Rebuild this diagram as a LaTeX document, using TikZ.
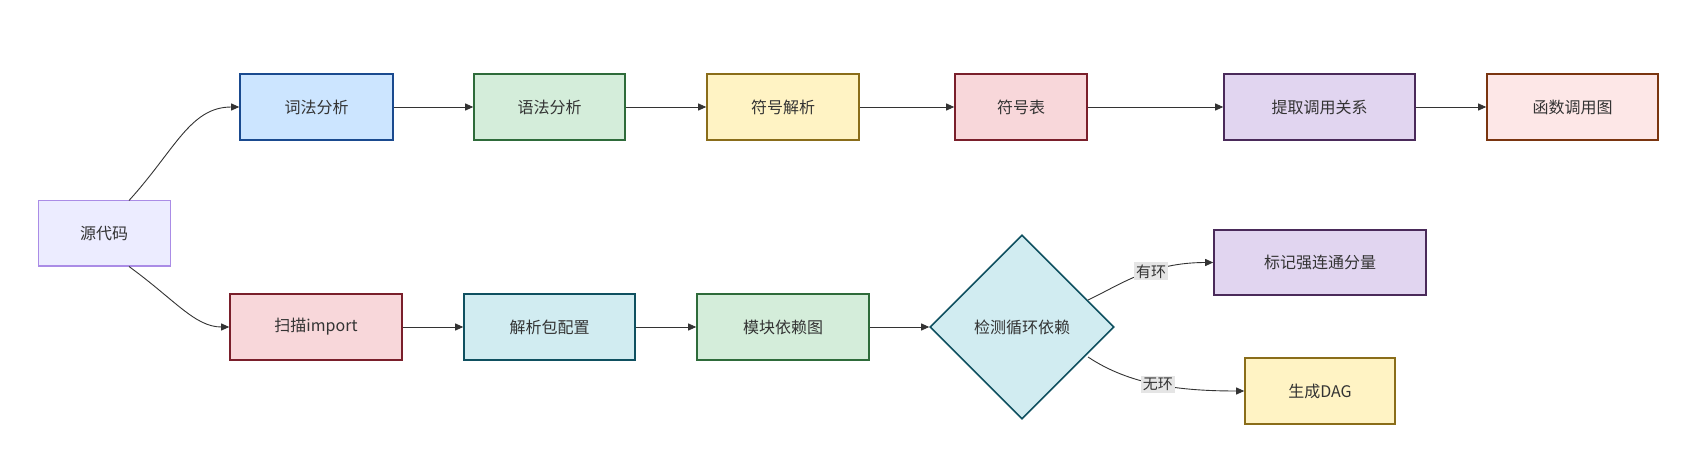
\documentclass[tikz,border=0pt]{standalone}
\usepackage{fontspec}
\setmainfont{Noto Sans CJK SC}
\usetikzlibrary{shapes.geometric,arrows.meta}
\definecolor{tx}{HTML}{333333}
\definecolor{sB}{RGB}{26,74,143}\definecolor{fB}{RGB}{204,229,255}
\definecolor{sG}{RGB}{46,107,58}\definecolor{fG}{RGB}{212,237,218}
\definecolor{sY}{RGB}{138,109,26}\definecolor{fY}{RGB}{255,243,196}
\definecolor{sR}{RGB}{122,31,43}\definecolor{fR}{RGB}{248,215,218}
\definecolor{sP}{RGB}{74,42,90}\definecolor{fP}{RGB}{225,213,240}
\definecolor{sO}{RGB}{122,53,16}\definecolor{fO}{RGB}{253,231,231}
\definecolor{sT}{RGB}{15,80,96}\definecolor{fT}{RGB}{209,236,241}
\definecolor{sS}{RGB}{170,140,230}\definecolor{fS}{RGB}{236,236,255}
\begin{document}
\begin{tikzpicture}[x=1pt,y=-1pt,
 box/.style={draw=#1,line width=1.6pt,minimum height=66pt,inner sep=0pt,font=\fontsize{16}{18}\selectfont,text=tx},
 ar/.style={draw=tx,line width=0.9pt,-{Triangle[length=8pt,width=7pt]}},
 lab/.style={fill=black!10,inner sep=2pt,font=\fontsize{15}{17}\selectfont,text=tx}]
\useasboundingbox (0,0) rectangle (1696,454);
\node[box=sS,fill=fS,line width=1pt,minimum width=132pt,minimum height=65pt] (src) at (104,233.5) {源代码};
\node[box=sB,fill=fB,minimum width=153pt] (a1) at (316.5,107) {词法分析};
\node[box=sG,fill=fG,minimum width=151pt] (a2) at (549.5,107) {语法分析};
\node[box=sY,fill=fY,minimum width=152pt] (a3) at (783,107) {符号解析};
\node[box=sR,fill=fR,minimum width=132pt] (a4) at (1021,107) {符号表};
\node[box=sP,fill=fP,minimum width=191pt] (a5) at (1319.5,107) {提取调用关系};
\node[box=sO,fill=fO,minimum width=171pt] (a6) at (1572.5,107) {函数调用图};
\node[box=sR,fill=fR,minimum width=172pt] (b1) at (316,327) {扫描import};
\node[box=sT,fill=fT,minimum width=171pt] (b2) at (549.5,327) {解析包配置};
\node[box=sG,fill=fG,minimum width=172pt] (b3) at (783,327) {模块依赖图};
\node[box=sT,fill=fT,diamond,minimum width=184pt,minimum height=184pt,aspect=1] (d) at (1022,327) {检测循环依赖};
\node[box=sP,fill=fP,minimum width=212pt,minimum height=65pt] (c1) at (1320,262.5) {标记强连通分量};
\node[box=sY,fill=fY,minimum width=150pt] (c2) at (1320,391) {生成DAG};
\draw[ar] (src.north) ++(25,0) .. controls (175,150) and (190,107) .. (a1.west);
\draw[ar] (src.south) ++(25,0) .. controls (175,300) and (195,327) .. (b1.west);
\draw[ar] (a1)--(a2); \draw[ar] (a2)--(a3); \draw[ar] (a3)--(a4); \draw[ar] (a4)--(a5); \draw[ar] (a5)--(a6);
\draw[ar] (b1)--(b2); \draw[ar] (b2)--(b3); \draw[ar] (b3)--(d);
\draw[ar] (1088,300) .. controls (1120,285) and (1150,262.5) .. node[lab,pos=0.6]{有环} (c1.west);
\draw[ar] (1088,357) .. controls (1130,385) and (1180,391) .. node[lab,pos=0.5]{无环} (c2.west);
\end{tikzpicture}
\end{document}
